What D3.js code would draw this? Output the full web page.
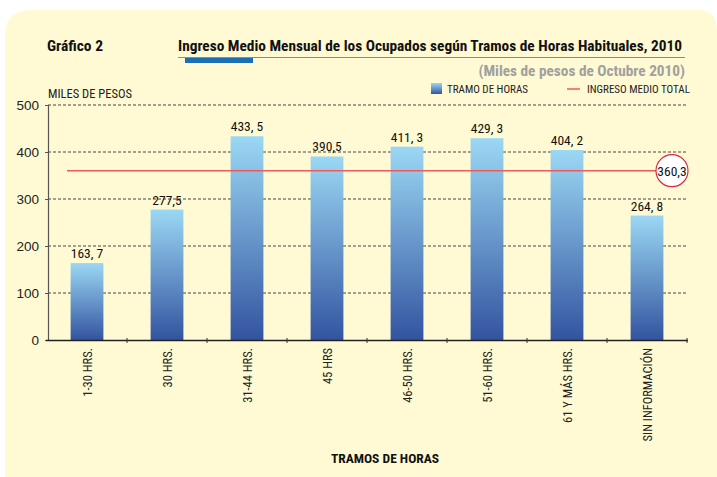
<!DOCTYPE html>
<html><head><meta charset="utf-8">
<script src="https://cdn.jsdelivr.net/npm/d3@7"></script>
<style>
body{margin:0;background:#fff;}
text{font-family:"Liberation Sans Narrow","Roboto Condensed","DejaVu Sans Condensed",sans-serif;}
</style></head>
<body><svg id="c" width="717" height="477"></svg>
<script>
const categories = ["1-30 HRS.","30 HRS.","31-44 HRS.","45 HRS","46-50 HRS.","51-60 HRS.","61 Y MÁS HRS.","SIN INFORMACIÓN"];
const values = [163.7, 277.5, 433.5, 390.5, 411.3, 429.3, 404.2, 264.8];
const valueLabels = ["163, 7","277,5","433, 5","390,5","411, 3","429, 3","404, 2","264, 8"];
const totalValue = 360.3;
const totalLabel = "360,3";
const yTicks = [0,100,200,300,400,500];

const svg = d3.select("#c");
svg.append("path")
  .attr("d","M5,477 L5,36 Q5,10 31,10 L697,10 Q717,10 717,30 L717,477 Z")
  .attr("fill","#FFFAD3");

const defs = svg.append("defs");
const g1 = defs.append("linearGradient").attr("id","bg").attr("x1",0).attr("y1",0).attr("x2",0).attr("y2",1);
g1.append("stop").attr("offset","0%").attr("stop-color","#9BD8F4");
g1.append("stop").attr("offset","100%").attr("stop-color","#3354A0");

// titles
svg.append("text").attr("x",47).attr("y",51).attr("font-size",15.5).attr("font-weight","bold").attr("fill","#111").text("Gráfico 2");
svg.append("text").attr("x",682).attr("y",51).attr("text-anchor","end").attr("font-size",15.3).attr("font-weight","bold").attr("fill","#111")
  .attr("textLength",504).attr("lengthAdjust","spacingAndGlyphs")
  .text("Ingreso Medio Mensual de los Ocupados según Tramos de Horas Habituales, 2010");
svg.append("line").attr("x1",178).attr("x2",685).attr("y1",57.5).attr("y2",57.5).attr("stroke","#8a8a8a").attr("stroke-width",1.2);
svg.append("rect").attr("x",185).attr("y",58).attr("width",68).attr("height",5).attr("fill","#1B6FB5");
svg.append("text").attr("x",685).attr("y",76).attr("text-anchor","end").attr("font-size",15.3).attr("font-weight","bold").attr("fill","#A0A0A0")
  .text("(Miles de pesos de Octubre 2010)");

// legend
svg.append("rect").attr("x",431).attr("y",83).attr("width",11).attr("height",11).attr("fill","url(#bg)");
svg.append("text").attr("x",447).attr("y",93).attr("font-size",11).attr("fill","#222").text("TRAMO DE HORAS");
svg.append("line").attr("x1",567).attr("x2",580).attr("y1",89).attr("y2",89).attr("stroke","#EF5B5B").attr("stroke-width",1.5);
svg.append("text").attr("x",587).attr("y",93).attr("font-size",11).attr("fill","#222").text("INGRESO MEDIO TOTAL");
svg.append("text").attr("x",48).attr("y",98).attr("font-size",12.5).attr("fill","#222").text("MILES DE PESOS");

// scales
const x = d3.scaleBand().domain(categories).range([47,687]).paddingInner(0.59).paddingOuter(0.295);
const y = d3.scaleLinear().domain([0,500]).range([340,105]);

// gridlines
svg.append("g").selectAll("line").data(yTicks.filter(d=>d>0)).join("line")
  .attr("x1",48).attr("x2",687).attr("y1",d=>y(d)).attr("y2",d=>y(d))
  .attr("stroke","#444").attr("stroke-width",1).attr("stroke-dasharray","3,2");

// bars
svg.append("g").selectAll("rect").data(values).join("rect")
  .attr("x",(d,i)=>x(categories[i])).attr("width",x.bandwidth())
  .attr("y",d=>y(d)).attr("height",d=>y(0)-y(d)).attr("fill","url(#bg)");

svg.append("g").selectAll("text").data(values).join("text")
  .attr("x",(d,i)=>x(categories[i])+x.bandwidth()/2).attr("y",d=>y(d)-5)
  .attr("text-anchor","middle").attr("font-size",13.5).attr("fill","#111")
  .text((d,i)=>valueLabels[i]);

// total line
svg.append("line").attr("x1",67).attr("x2",657).attr("y1",y(totalValue)).attr("y2",y(totalValue))
  .attr("stroke","#EF5B5B").attr("stroke-width",1.5);
svg.append("circle").attr("cx",672).attr("cy",y(totalValue)).attr("r",16)
  .attr("fill","#fff").attr("stroke","#E0263A").attr("stroke-width",1.2);
svg.append("text").attr("x",672).attr("y",y(totalValue)+5).attr("text-anchor","middle").attr("font-size",13.5).attr("fill","#111").text(totalLabel);

// y axis
const ya = svg.append("g").attr("transform","translate(48,0)")
  .call(d3.axisLeft(y).tickValues(yTicks).tickSize(3).tickPadding(6).tickFormat(d3.format("d")));
ya.select(".domain").attr("stroke","#555").attr("stroke-width",1.2);
ya.selectAll(".tick line").attr("stroke","#555");
ya.selectAll(".tick text").attr("font-size",13.5).attr("fill","#222").style("font-family","'Liberation Sans Narrow',sans-serif");

// x axis
svg.append("line").attr("x1",46).attr("x2",688).attr("y1",340.5).attr("y2",340.5).attr("stroke","#222").attr("stroke-width",1.3);
const bounds = categories.map((c,i)=>x(c)-x.step()*x.paddingInner()/2).concat([687]);
svg.append("g").selectAll("line").data(bounds.slice(1)).join("line")
  .attr("x1",d=>d).attr("x2",d=>d).attr("y1",338).attr("y2",343).attr("stroke","#333");

svg.append("g").selectAll("text").data(categories).join("text")
  .attr("transform",d=>`translate(${x(d)+x.bandwidth()/2+5},348) rotate(-90)`)
  .attr("text-anchor","end").attr("font-size",12.5).attr("fill","#222").text(d=>d);

svg.append("text").attr("x",385).attr("y",463).attr("text-anchor","middle").attr("font-size",13.5).attr("font-weight","bold").attr("fill","#111").text("TRAMOS DE HORAS");
</script></body></html>
